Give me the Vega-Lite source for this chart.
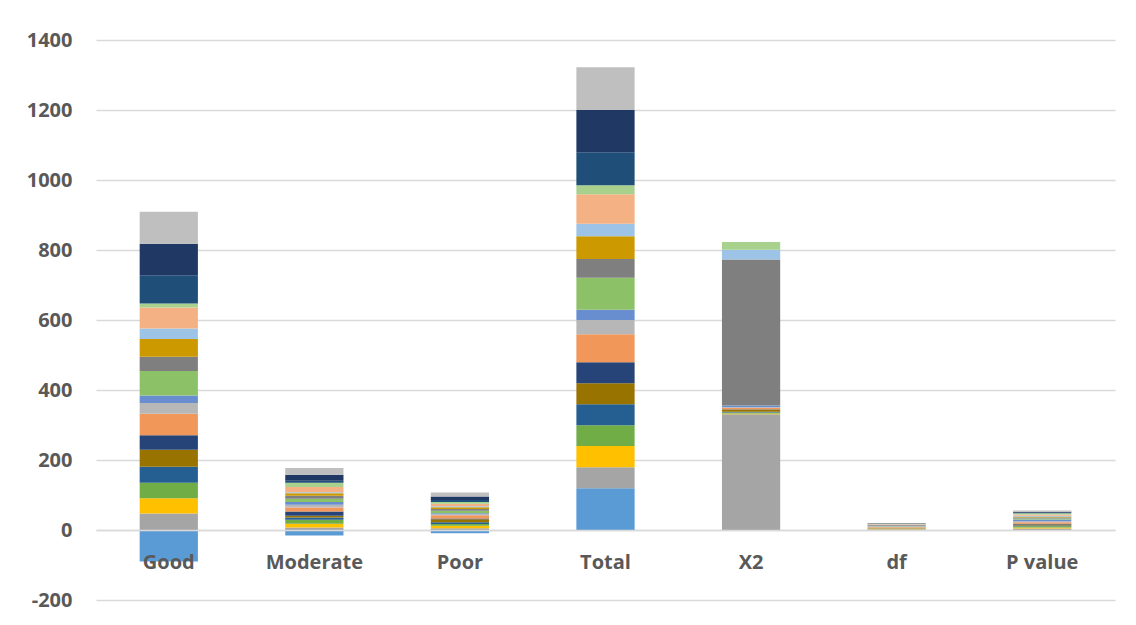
{
  "$schema": "https://vega.github.io/schema/vega-lite/v6.json",
  "autosize": "none",
  "width": 1019,
  "height": 560,
  "padding": {"left": 96, "top": 40, "right": 21, "bottom": 25},
  "background": "white",
  "config": {"view": {"stroke": null}, "font": "Open Sans"},
  "data": {"values": [
    {"c":"Good","i":1,"v":-90},{"c":"Good","i":2,"v":47},{"c":"Good","i":3,"v":44},{"c":"Good","i":4,"v":44},{"c":"Good","i":5,"v":46},{"c":"Good","i":6,"v":48},{"c":"Good","i":7,"v":42},{"c":"Good","i":8,"v":61},{"c":"Good","i":9,"v":31},{"c":"Good","i":10,"v":21},{"c":"Good","i":11,"v":70},{"c":"Good","i":12,"v":41},{"c":"Good","i":13,"v":51},{"c":"Good","i":14,"v":30},{"c":"Good","i":15,"v":60},{"c":"Good","i":16,"v":11},{"c":"Good","i":17,"v":81},{"c":"Good","i":18,"v":90},{"c":"Good","i":19,"v":91},
    {"c":"Moderate","i":1,"v":-16},{"c":"Moderate","i":2,"v":7},{"c":"Moderate","i":3,"v":11},{"c":"Moderate","i":4,"v":11},{"c":"Moderate","i":5,"v":7},{"c":"Moderate","i":6,"v":5},{"c":"Moderate","i":7,"v":12},{"c":"Moderate","i":8,"v":11},{"c":"Moderate","i":9,"v":8},{"c":"Moderate","i":10,"v":8},{"c":"Moderate","i":11,"v":9},{"c":"Moderate","i":12,"v":9},{"c":"Moderate","i":13,"v":7},{"c":"Moderate","i":14,"v":3},{"c":"Moderate","i":15,"v":15},{"c":"Moderate","i":16,"v":12},{"c":"Moderate","i":17,"v":6},{"c":"Moderate","i":18,"v":17},{"c":"Moderate","i":19,"v":19},
    {"c":"Poor","i":1,"v":-9},{"c":"Poor","i":2,"v":5},{"c":"Poor","i":3,"v":7},{"c":"Poor","i":4,"v":5},{"c":"Poor","i":5,"v":5},{"c":"Poor","i":6,"v":9},{"c":"Poor","i":7,"v":2},{"c":"Poor","i":8,"v":9},{"c":"Poor","i":9,"v":3},{"c":"Poor","i":10,"v":3},{"c":"Poor","i":11,"v":7},{"c":"Poor","i":12,"v":5},{"c":"Poor","i":13,"v":5},{"c":"Poor","i":14,"v":3},{"c":"Poor","i":15,"v":7},{"c":"Poor","i":16,"v":5},{"c":"Poor","i":17,"v":6},{"c":"Poor","i":18,"v":10},{"c":"Poor","i":19,"v":11},
    {"c":"Total","i":1,"v":119},{"c":"Total","i":2,"v":60},{"c":"Total","i":3,"v":61},{"c":"Total","i":4,"v":59},{"c":"Total","i":5,"v":60},{"c":"Total","i":6,"v":60},{"c":"Total","i":7,"v":60},{"c":"Total","i":8,"v":80},{"c":"Total","i":9,"v":41},{"c":"Total","i":10,"v":29},{"c":"Total","i":11,"v":92},{"c":"Total","i":12,"v":53},{"c":"Total","i":13,"v":65},{"c":"Total","i":14,"v":36},{"c":"Total","i":15,"v":84},{"c":"Total","i":16,"v":26},{"c":"Total","i":17,"v":94},{"c":"Total","i":18,"v":121},{"c":"Total","i":19,"v":122},
    {"c":"X2","i":1,"v":0},{"c":"X2","i":2,"v":331},{"c":"X2","i":3,"v":2},{"c":"X2","i":4,"v":3},{"c":"X2","i":5,"v":2},{"c":"X2","i":6,"v":6},{"c":"X2","i":7,"v":1},{"c":"X2","i":8,"v":4},{"c":"X2","i":9,"v":2},{"c":"X2","i":10,"v":5},{"c":"X2","i":11,"v":0},{"c":"X2","i":12,"v":417},{"c":"X2","i":13,"v":0},{"c":"X2","i":14,"v":28},{"c":"X2","i":15,"v":0},{"c":"X2","i":16,"v":22},{"c":"X2","i":17,"v":0},{"c":"X2","i":18,"v":0},{"c":"X2","i":19,"v":0},
    {"c":"df","i":1,"v":0},{"c":"df","i":2,"v":2},{"c":"df","i":3,"v":1},{"c":"df","i":4,"v":1},{"c":"df","i":5,"v":0},{"c":"df","i":6,"v":1},{"c":"df","i":7,"v":0},{"c":"df","i":8,"v":3},{"c":"df","i":9,"v":2},{"c":"df","i":10,"v":1},{"c":"df","i":11,"v":1},{"c":"df","i":12,"v":2},{"c":"df","i":13,"v":0},{"c":"df","i":14,"v":2},{"c":"df","i":15,"v":1},{"c":"df","i":16,"v":1},{"c":"df","i":17,"v":0},{"c":"df","i":18,"v":1},{"c":"df","i":19,"v":1},
    {"c":"P value","i":1,"v":0},{"c":"P value","i":2,"v":4},{"c":"P value","i":3,"v":3},{"c":"P value","i":4,"v":4},{"c":"P value","i":5,"v":2},{"c":"P value","i":6,"v":3},{"c":"P value","i":7,"v":2},{"c":"P value","i":8,"v":4},{"c":"P value","i":9,"v":3},{"c":"P value","i":10,"v":5},{"c":"P value","i":11,"v":3},{"c":"P value","i":12,"v":3},{"c":"P value","i":13,"v":2},{"c":"P value","i":14,"v":3},{"c":"P value","i":15,"v":3},{"c":"P value","i":16,"v":4},{"c":"P value","i":17,"v":1},{"c":"P value","i":18,"v":3},{"c":"P value","i":19,"v":4}
  ]},
  "mark": {"type": "bar"},
  "encoding": {
    "x": {
      "field": "c", "type": "nominal", "sort": null,
      "scale": {"paddingInner": 0.6, "paddingOuter": 0.3},
      "axis": {"title": null, "labelAngle": 0, "offset": -70, "zindex": 1, "domain": true, "domainColor": "#D9D9D9", "domainWidth": 1.5, "ticks": false, "labelPadding": 22, "labelFontSize": 20, "labelFontWeight": "bold", "labelColor": "#595959", "labelFont": "Open Sans"}
    },
    "y": {
      "field": "v", "type": "quantitative", "stack": "zero",
      "scale": {"domain": [-200, 1400], "nice": false},
      "axis": {"title": null, "values": [-200, 0, 200, 400, 600, 800, 1000, 1200, 1400], "labelExpr": "datum.value + ''", "domain": false, "ticks": false, "grid": true, "gridColor": "#D9D9D9", "gridWidth": 1.3, "labelPadding": 24, "labelFontSize": 20, "labelFontWeight": "bold", "labelColor": "#595959", "labelFont": "Open Sans"}
    },
    "color": {
      "field": "i", "type": "nominal", "legend": null,
      "scale": {
        "domain": [1,2,3,4,5,6,7,8,9,10,11,12,13,14,15,16,17,18,19],
        "range": ["#5B9BD5","#A5A5A5","#FFC000","#70AD47","#255E91","#997300","#264478","#F1975A","#B7B7B7","#698ED0","#8CC168","#7F7F7F","#CC9A00","#9DC3E6","#F4B183","#A9D18E","#1F4E79","#203864","#BFBFBF"]
      }
    },
    "order": {"field": "i", "type": "quantitative"}
  }
}
